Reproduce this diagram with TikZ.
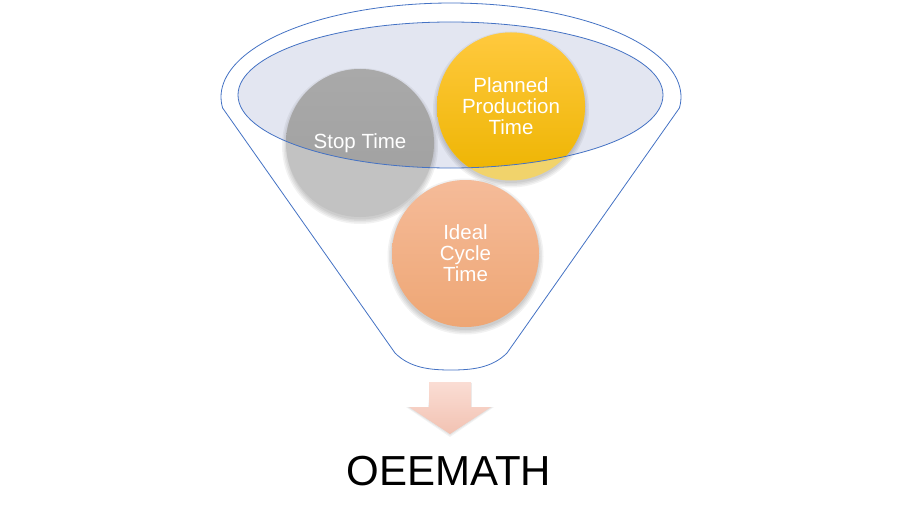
\documentclass[tikz,border=0pt]{standalone}
\usepackage{fontspec}
\setmainfont{Liberation Sans}
\definecolor{funnelblue}{HTML}{4472C4}
\definecolor{ellfill}{HTML}{E3E6F1}
\definecolor{stoptop}{HTML}{A9A9A9}
\definecolor{stopbot}{HTML}{9F9F9F}
\definecolor{stoppale}{HTML}{C2C2C2}
\definecolor{plantop}{HTML}{FFC93E}
\definecolor{planbot}{HTML}{EDB400}
\definecolor{planpale}{HTML}{F1D36B}
\definecolor{idealtop}{HTML}{F5BB99}
\definecolor{idealbot}{HTML}{EEA674}
\definecolor{arrtop}{HTML}{FADDD4}
\definecolor{arrbot}{HTML}{F2C2B2}
\tikzset{
  funnelline/.style={draw=funnelblue, line width=0.8pt},
  ballshadow/.style={fill=black, opacity=0.05},
  balltext/.style={circle, minimum size=148pt, inner sep=0pt, align=center,
    text=white, font=\fontsize{20.5}{21}\selectfont},
}
\begin{document}
\begin{tikzpicture}[x=1pt,y=-1pt]
\useasboundingbox (0,0) rectangle (902,527);
% centres
\coordinate (cs) at (360,143);
\coordinate (cp) at (511,106.5);
\coordinate (ci) at (465.5,253.5);
% funnel outline
\draw[funnelline, fill=white] plot[domain=-6.7:186.7, samples=90] ({451+230*cos(\x)},{97-94*sin(\x)})
  -- (395,353) .. controls (410,368) and (430,370) .. (451,370)
  .. controls (472,370) and (492,368) .. (507,353) -- cycle;
% inner ellipse fill
\fill[ellfill] (450.5,95) ellipse [x radius=212.5, y radius=73];
% shadows
\foreach \c in {cs,cp,ci}{
  \foreach \d in {0,1.5,3,4.5}{
    \fill[ballshadow] ([yshift=-3pt]\c) circle [radius=73.5+\d];
  }
}
% pale (outside) parts
\fill[stoppale] (cs) circle [radius=74];
\fill[planpale] (cp) circle [radius=74];
\shade[top color=idealtop, bottom color=idealbot] (ci) circle [radius=73.5];
% vivid parts inside the ellipse
\begin{scope}
  \clip (450.5,95) ellipse [x radius=212.5, y radius=73];
  \shade[top color=stoptop, bottom color=stopbot] (cs) circle [radius=74];
  \shade[top color=plantop, bottom color=planbot] (cp) circle [radius=74];
\end{scope}
% ellipse border
\draw[funnelline] (450.5,95) ellipse [x radius=212.5, y radius=73];
% texts
\node[balltext] (stop) at (cs) {Stop Time};
\node[balltext] (plan) at (cp) {Planned\\Production\\Time};
\node[balltext] (ideal) at (ci) {Ideal\\Cycle\\Time};
% arrow
\foreach \d in {0,1.5,3}{
  \fill[black, opacity=0.05] ([shift={(2,3)}]429-\d*0.3,383) -- (471+\d*0.3,383) -- (471+\d*0.3,407) -- (491+\d,407)
    -- (450,434+\d) -- (409-\d,407) -- (429-\d*0.3,407) -- cycle;
}
\shade[top color=arrtop, bottom color=arrbot] (429,382) -- (471,382) -- (471,407) -- (491,407)
  -- (450,434) -- (409,407) -- (429,407) -- cycle;
\node[font=\fontsize{42}{42}\selectfont, text=black, anchor=base] (oee) at (449,485) {OEEMATH};
\end{tikzpicture}
\end{document}
